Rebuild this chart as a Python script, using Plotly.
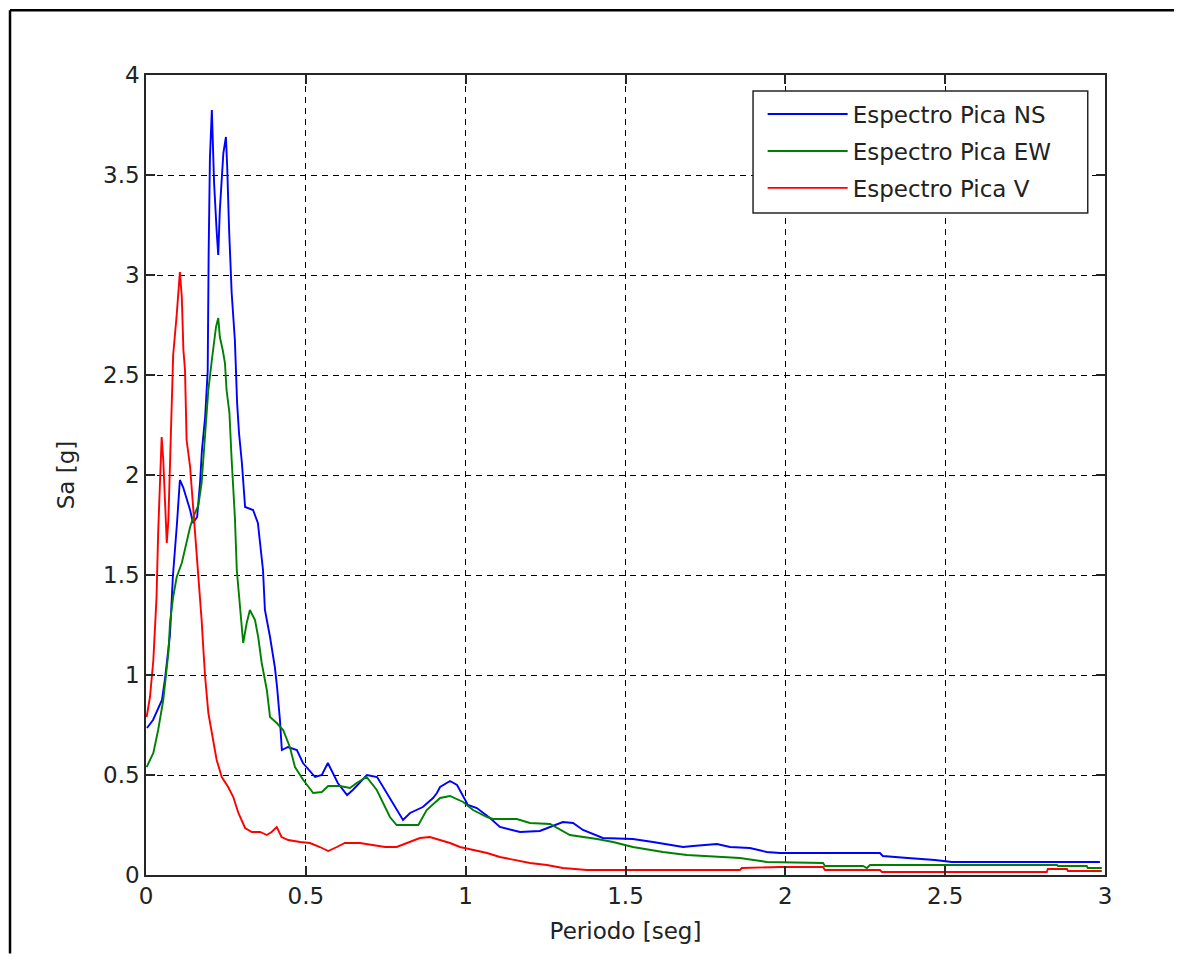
import plotly.graph_objects as go

# ---------------- data ----------------
ns_T = [0.003, 0.022, 0.05, 0.059, 0.075, 0.084, 0.097, 0.106, 0.116, 0.128, 0.138, 0.147, 0.16, 0.169,
        0.175, 0.185, 0.193, 0.196, 0.2, 0.206, 0.209, 0.213, 0.221, 0.226, 0.231, 0.242, 0.25, 0.254,
        0.26, 0.268, 0.278, 0.285, 0.291, 0.3, 0.31, 0.335, 0.35, 0.357, 0.366, 0.372, 0.388, 0.403,
        0.41, 0.419, 0.425, 0.444, 0.472, 0.491, 0.529, 0.55, 0.569, 0.6, 0.629, 0.647, 0.691, 0.723,
        0.773, 0.804, 0.826, 0.866, 0.898, 0.91, 0.92, 0.951, 0.973, 0.992, 1.007, 1.035, 1.051, 1.076,
        1.107, 1.17, 1.232, 1.273, 1.304, 1.336, 1.367, 1.429, 1.523, 1.586, 1.68, 1.711, 1.786, 1.827,
        1.889, 1.942, 1.983, 2.296, 2.305, 2.383, 2.468, 2.521, 2.984]
ns_Sa = [0.735, 0.775, 0.875, 0.975, 1.2, 1.49, 1.76, 1.975, 1.94, 1.875, 1.825, 1.76, 1.79, 1.96,
         2.125, 2.29, 2.52, 3.11, 3.585, 3.825, 3.69, 3.46, 3.22, 3.1, 3.325, 3.61, 3.69, 3.54,
         3.225, 2.91, 2.675, 2.36, 2.21, 2.06, 1.84, 1.825, 1.76, 1.66, 1.525, 1.325, 1.19, 1.04,
         0.94, 0.775, 0.625, 0.64, 0.625, 0.56, 0.49, 0.5, 0.56, 0.46, 0.4, 0.425, 0.5, 0.49,
         0.36, 0.275, 0.31, 0.34, 0.385, 0.41, 0.44, 0.47, 0.45, 0.39, 0.35, 0.335, 0.315, 0.285,
         0.24, 0.215, 0.22, 0.245, 0.265, 0.26, 0.225, 0.185, 0.18, 0.165, 0.14, 0.145, 0.155, 0.14,
         0.135, 0.115, 0.11, 0.11, 0.095, 0.085, 0.075, 0.065, 0.065]

ew_T = [0.002, 0.023, 0.038, 0.054, 0.07, 0.075, 0.085, 0.096, 0.112, 0.127, 0.138, 0.148, 0.164,
        0.174, 0.181, 0.19, 0.195, 0.206, 0.213, 0.219, 0.226, 0.231, 0.24, 0.247, 0.252, 0.261,
        0.268, 0.278, 0.284, 0.294, 0.304, 0.315, 0.325, 0.341, 0.351, 0.362, 0.378, 0.388, 0.409,
        0.429, 0.45, 0.466, 0.492, 0.523, 0.55, 0.57, 0.607, 0.638, 0.659, 0.69, 0.722, 0.763,
        0.784, 0.852, 0.878, 0.92, 0.951, 0.992, 1.023, 1.067, 1.085, 1.16, 1.201, 1.264, 1.326,
        1.411, 1.461, 1.523, 1.617, 1.692, 1.786, 1.858, 1.942, 2.118, 2.124, 2.243, 2.255, 2.265,
        2.85, 2.853, 2.943, 2.946, 2.99]
ew_Sa = [0.54, 0.61, 0.725, 0.875, 1.11, 1.26, 1.39, 1.49, 1.56, 1.66, 1.74, 1.79, 1.85,
         1.96, 2.125, 2.29, 2.425, 2.575, 2.66, 2.74, 2.785, 2.69, 2.625, 2.56, 2.425, 2.31,
         2.075, 1.79, 1.525, 1.34, 1.16, 1.26, 1.325, 1.275, 1.19, 1.06, 0.925, 0.79, 0.76,
         0.725, 0.64, 0.54, 0.475, 0.41, 0.415, 0.445, 0.445, 0.435, 0.46, 0.49, 0.425, 0.29,
         0.25, 0.25, 0.325, 0.385, 0.395, 0.365, 0.325, 0.29, 0.28, 0.28, 0.26, 0.255, 0.2,
         0.18, 0.165, 0.14, 0.115, 0.1, 0.09, 0.085, 0.065, 0.06, 0.045, 0.045, 0.035, 0.05,
         0.05, 0.045, 0.045, 0.035, 0.035]

v_T = [0.002, 0.0125, 0.023, 0.028, 0.033, 0.038, 0.044, 0.049, 0.054, 0.059, 0.065, 0.07, 0.075,
       0.08, 0.085, 0.096, 0.101, 0.106, 0.112, 0.117, 0.122, 0.127, 0.138, 0.148, 0.159, 0.164,
       0.169, 0.174, 0.179, 0.185, 0.195, 0.206, 0.221, 0.237, 0.257, 0.273, 0.289, 0.31, 0.331,
       0.357, 0.378, 0.393, 0.409, 0.424, 0.445, 0.482, 0.513, 0.544, 0.57, 0.597, 0.622, 0.669,
       0.711, 0.748, 0.784, 0.815, 0.857, 0.888, 0.92, 0.951, 0.982, 1.023, 1.067, 1.107, 1.16,
       1.201, 1.254, 1.304, 1.379, 1.858, 1.864, 1.983, 2.118, 2.124, 2.296, 2.302, 2.818, 2.821,
       2.881, 2.884, 2.99]
v_Sa = [0.79, 0.89, 1.075, 1.275, 1.39, 1.71, 1.99, 2.19, 2.075, 1.84, 1.66, 1.775, 2.04,
        2.41, 2.6, 2.8, 2.94, 3.015, 2.89, 2.625, 2.525, 2.175, 2.04, 1.825, 1.625, 1.49,
        1.39, 1.275, 1.14, 0.99, 0.81, 0.71, 0.575, 0.49, 0.44, 0.39, 0.31, 0.235, 0.215,
        0.215, 0.2, 0.215, 0.24, 0.19, 0.175, 0.165, 0.16, 0.14, 0.12, 0.14, 0.16, 0.16,
        0.15, 0.14, 0.14, 0.16, 0.185, 0.19, 0.175, 0.16, 0.14, 0.125, 0.11, 0.09, 0.075,
        0.06, 0.05, 0.035, 0.025, 0.025, 0.035, 0.04, 0.04, 0.025, 0.025, 0.015, 0.015, 0.03,
        0.03, 0.02, 0.02]

series_names = ["Espectro Pica NS", "Espectro Pica EW", "Espectro Pica V"]
series_colors = ["#0000FF", "#008000", "#FF0000"]

x_ticks = [0, 0.5, 1, 1.5, 2, 2.5, 3]
x_ticklabels = ["0", "0.5", "1", "1.5", "2", "2.5", "3"]
y_ticks = [0, 0.5, 1, 1.5, 2, 2.5, 3, 3.5, 4]
y_ticklabels = ["0", "0.5", "1", "1.5", "2", "2.5", "3", "3.5", "4"]

x_title = "Periodo [seg]"
y_title = "Sa [g]"

# ---------------- figure ----------------
FONT = "DejaVu Sans, Liberation Sans, Arial, sans-serif"
FS = 23
TXT = "#222222"
fig = go.Figure()
for name, color, xs, ys in zip(series_names, series_colors,
                                [ns_T, ew_T, v_T], [ns_Sa, ew_Sa, v_Sa]):
    fig.add_trace(go.Scatter(x=xs, y=ys, mode="lines", name=name, legendgroup=name,
                             line=dict(color=color, width=1.9)))

axis_common = dict(
    showline=True, linecolor="#262626", linewidth=1.5, mirror="ticks",
    ticks="inside", ticklen=9, tickcolor="#262626", tickwidth=1.5,
    showgrid=True, gridcolor="#000000", gridwidth=1.2, griddash="6px,5px",
    zeroline=False, tickfont=dict(family=FONT, size=FS, color=TXT),
)

fig.update_xaxes(range=[0, 3], tickvals=x_ticks, ticktext=x_ticklabels,
                 title=dict(text=x_title, font=dict(family=FONT, size=FS, color=TXT), standoff=15),
                 **axis_common)
fig.update_yaxes(range=[0, 4], tickvals=y_ticks, ticktext=y_ticklabels,
                 title=dict(text=y_title, font=dict(family=FONT, size=FS, color=TXT), standoff=22),
                 **axis_common)

# page body has an 8px margin, so the figure sits at (8, 8)
W, H = 1168, 947
fig.update_layout(
    width=W, height=H,
    margin=dict(l=138, r=71, t=67, b=80),
    paper_bgcolor="white", plot_bgcolor="white",
    font=dict(family=FONT, size=FS, color=TXT),
    showlegend=True,
    legend=dict(x=0.643, y=0.978, xanchor="left", yanchor="top",
                bgcolor="rgba(0,0,0,0)", borderwidth=0,
                font=dict(family=FONT, size=FS, color=TXT),
                itemwidth=80, tracegroupgap=4),
    shapes=[
        # legend frame
        dict(type="rect", xref="paper", yref="paper", x0=0.633, x1=0.982, y0=0.8275, y1=0.98,
             line=dict(color="#262626", width=1.5), fillcolor="white", layer="above"),
        # outer figure frame: top and left edges, kept inside the figure area
        dict(type="line", xref="paper", yref="paper", x0=-0.1418, x1=1.072, y0=1.081, y1=1.081,
             line=dict(color="black", width=2.5)),
        dict(type="line", xref="paper", yref="paper", x0=-0.1418, x1=-0.1418, y0=-0.098, y1=1.081,
             line=dict(color="black", width=2.5)),
    ],
)

fig.write_html("out.html")
